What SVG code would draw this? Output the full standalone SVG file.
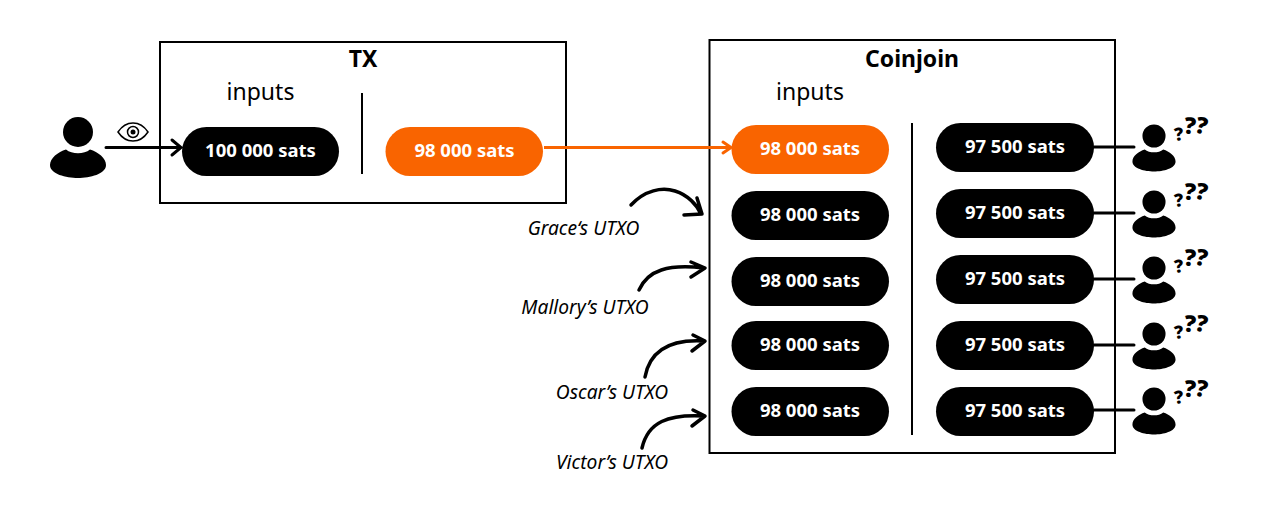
<svg xmlns="http://www.w3.org/2000/svg" width="1280" height="509" viewBox="0 0 1280 509">
<style>
text{font-family:"Noto Sans","Liberation Sans",sans-serif;fill:#000}
.box{fill:#fff;stroke:#000;stroke-width:2}
.pill{fill:#000}
.or{fill:#f96400}
.sat{font-size:18.500px;font-weight:700;fill:#fff;text-anchor:middle}
.title{font-size:23px;font-weight:700;text-anchor:middle}
.head{font-size:23px;text-anchor:middle}
.ut{font-size:19.200px;font-style:italic;text-anchor:middle}
.q{font-family:"Open Sans",sans-serif;font-weight:800;font-size:23px}
.q2{font-family:"Open Sans",sans-serif;font-weight:800;font-size:18px}
.ln{fill:none;stroke:#000;stroke-width:3;stroke-linecap:round}
.cv{fill:none;stroke:#000;stroke-width:3.500;stroke-linecap:round;stroke-linejoin:round}
.div{stroke:#000;stroke-width:2}
</style>
<defs>
<g id="person">
<circle cx="0" cy="0" r="15"/>
<path d="M-28 33C-28 26-20 20-12 17.500C-6 22.500 6 22.500 12 17.500C20 20 28 26 28 33C28 42 12 46 0 46C-12 46-28 42-28 33Z"/>
</g>
<g id="qm">
<text class="q" x="-2" y="0" transform="rotate(8 -2 0)">?</text>
<text class="q" x="9" y="-1" transform="rotate(14 9 -1)">?</text>
<text class="q2" x="-10" y="8" transform="rotate(-6 -10 8)">?</text>
</g>
</defs>
<g id="tx-box"><rect class="box" x="160" y="42" width="406" height="161"/><text class="title" x="363" y="67">TX</text><text class="head" x="260.500" y="100">inputs</text><line class="div" x1="362" y1="93" x2="362" y2="174"/></g>
<g id="coinjoin-box"><rect class="box" x="709.500" y="40" width="405.500" height="413"/><text class="title" x="912" y="67">Coinjoin</text><text class="head" x="810" y="100">inputs</text><line class="div" x1="912" y1="123" x2="912" y2="435"/></g>
<g id="connectors">
<path d="M544 147.500H730" fill="none" stroke="#f96400" stroke-width="3"/>
<path d="M723 142L731 147.500L723 153" fill="none" stroke="#f96400" stroke-width="3" stroke-linecap="round" stroke-linejoin="round"/>
<path class="ln" d="M106 147.500H180M172 140L181 147.500L172 155"/>
<path class="ln" d="M1094 147H1134M1094 213H1134M1094 279H1134M1094 345H1134M1094 410H1134"/>
<path class="cv" d="M631 205C645 190 662 187 675 191C688 195 697 205 701 214M684 215L702 214L697 198"/>
<path class="cv" d="M639 290C648 270 668 264 704 268M691 277L705 268L691 262"/>
<path class="cv" d="M645 377C650 350 670 339 704 341M692 351L705 341L693 335"/>
<path class="cv" d="M642 448C648 422 668 414 704 416M692 426L705 416L693 410"/>
</g>
<g id="viewer"><use href="#person" transform="translate(78,132)"/>
<path d="M118 132C126 120 140 120 148 132C140 144 126 144 118 132Z" fill="none" stroke="#000" stroke-width="1.500"/><circle cx="133" cy="132" r="5.500" fill="none" stroke="#000" stroke-width="1.500"/><circle cx="133" cy="132" r="2.500"/></g>
<g id="tx-input"><rect class="pill" x="182" y="127" width="157" height="49" rx="24.500"/><text class="sat" x="260.500" y="157">100 000 sats</text></g>
<g id="tx-output"><rect class="or" x="385.500" y="127" width="157.500" height="49" rx="24.500"/><text class="sat" x="464.500" y="157">98 000 sats</text></g>
<g id="in-1"><rect class="or" x="731.500" y="125" width="157.500" height="49" rx="24.500"/><text class="sat" x="810" y="155">98 000 sats</text></g>
<g id="in-2"><rect class="pill" x="731.500" y="191" width="157.500" height="49" rx="24.500"/><text class="sat" x="810" y="221">98 000 sats</text></g>
<g id="in-3"><rect class="pill" x="731.500" y="257" width="157.500" height="49" rx="24.500"/><text class="sat" x="810" y="287">98 000 sats</text></g>
<g id="in-4"><rect class="pill" x="731.500" y="321" width="157.500" height="49" rx="24.500"/><text class="sat" x="810" y="351">98 000 sats</text></g>
<g id="in-5"><rect class="pill" x="731.500" y="387" width="157.500" height="49" rx="24.500"/><text class="sat" x="810" y="417">98 000 sats</text></g>
<g id="out-1"><rect class="pill" x="936" y="123" width="158" height="49" rx="24.500"/><text class="sat" x="1015" y="153">97 500 sats</text></g>
<g id="out-2"><rect class="pill" x="936" y="189" width="158" height="49" rx="24.500"/><text class="sat" x="1015" y="219">97 500 sats</text></g>
<g id="out-3"><rect class="pill" x="936" y="255" width="158" height="49" rx="24.500"/><text class="sat" x="1015" y="285">97 500 sats</text></g>
<g id="out-4"><rect class="pill" x="936" y="321" width="158" height="49" rx="24.500"/><text class="sat" x="1015" y="351">97 500 sats</text></g>
<g id="out-5"><rect class="pill" x="936" y="387" width="158" height="49" rx="24.500"/><text class="sat" x="1015" y="417">97 500 sats</text></g>
<g id="anon-1"><use href="#person" transform="translate(1154,136) scale(.77)"/><use href="#qm" transform="translate(1185,133)"/></g>
<g id="anon-2"><use href="#person" transform="translate(1154,202) scale(.77)"/><use href="#qm" transform="translate(1185,199)"/></g>
<g id="anon-3"><use href="#person" transform="translate(1154,268) scale(.77)"/><use href="#qm" transform="translate(1185,265)"/></g>
<g id="anon-4"><use href="#person" transform="translate(1154,334) scale(.77)"/><use href="#qm" transform="translate(1185,331)"/></g>
<g id="anon-5"><use href="#person" transform="translate(1154,399) scale(.77)"/><use href="#qm" transform="translate(1185,396)"/></g>
<g id="utxo-labels">
<text class="ut" x="583.500" y="235">Grace‘s UTXO</text>
<text class="ut" x="585" y="314">Mallory’s UTXO</text>
<text class="ut" x="612" y="399">Oscar’s UTXO</text>
<text class="ut" x="612" y="469">Victor’s UTXO</text>
</g>
</svg>
